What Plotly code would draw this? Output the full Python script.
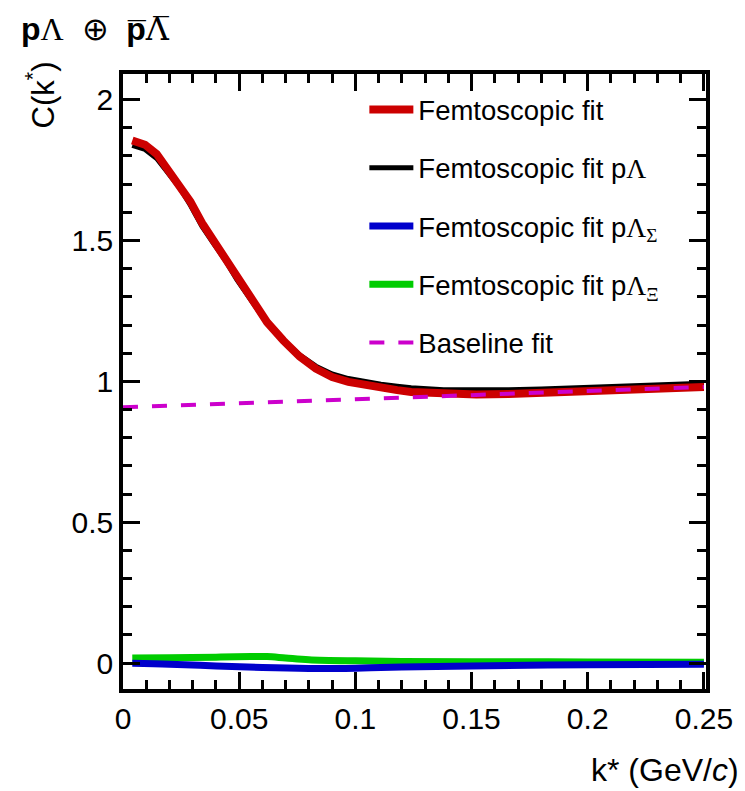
import plotly.graph_objects as go

# ---------------- data ----------------
k_fit = [0.004, 0.0095, 0.0145, 0.0195, 0.0245, 0.029, 0.034, 0.039, 0.044, 0.049,
         0.055, 0.062, 0.069, 0.076, 0.083, 0.090, 0.097, 0.104, 0.111, 0.118,
         0.124, 0.138, 0.152, 0.166, 0.180, 0.194, 0.208, 0.222, 0.236, 0.250]
c_total = [1.855, 1.840, 1.807, 1.750, 1.700, 1.638, 1.562, 1.500, 1.440, 1.370,
           1.295, 1.210, 1.145, 1.088, 1.045, 1.015, 0.998, 0.986, 0.977, 0.969,
           0.962, 0.955, 0.953, 0.955, 0.958, 0.963, 0.968, 0.972, 0.976, 0.980]
c_plambda = [1.838, 1.823, 1.791, 1.735, 1.686, 1.625, 1.550, 1.489, 1.430, 1.361,
             1.288, 1.206, 1.146, 1.094, 1.054, 1.026, 1.010, 0.998, 0.990, 0.983,
             0.977, 0.970, 0.968, 0.970, 0.973, 0.977, 0.981, 0.985, 0.989, 0.993]

k_sigma = [0.004, 0.02, 0.04, 0.06, 0.08, 0.10, 0.12, 0.15, 0.20, 0.25]
c_sigma = [-0.001, -0.004, -0.010, -0.016, -0.019, -0.018, -0.014, -0.010, -0.006, -0.004]

k_xi = [0.004, 0.02, 0.04, 0.055, 0.062, 0.07, 0.08, 0.10, 0.12, 0.15, 0.20, 0.25]
c_xi = [0.018, 0.019, 0.021, 0.023, 0.023, 0.018, 0.012, 0.008, 0.006, 0.005, 0.004, 0.003]

k_base = [0.0, 0.125, 0.25]
c_base = [0.908, 0.944, 0.980]

x_ticks = [0, 0.05, 0.1, 0.15, 0.2, 0.25]
x_ticktext = ["0", "0.05", "0.1", "0.15", "0.2", "0.25"]
y_ticks = [0, 0.5, 1, 1.5, 2]
y_ticktext = ["0", "0.5", "1", "1.5", "2"]

SERIF = "font-family:'Liberation Serif'"
LAM = f"<span style=\"{SERIF}\">Λ</span>"

names = {
    "total": "Femtoscopic fit",
    "plam": f"Femtoscopic fit p{LAM}",
    "sig": f"Femtoscopic fit p{LAM}<sub><span style=\"{SERIF}\">Σ</span></sub>",
    "xi": f"Femtoscopic fit p{LAM}<sub><span style=\"{SERIF}\">Ξ</span></sub>",
    "base": "Baseline fit",
}

fig = go.Figure()
# drawing order: black under red, magenta dashes on top
fig.add_trace(go.Scatter(x=k_fit, y=c_plambda, mode="lines", name=names["plam"],
                         line=dict(color="#000000", width=5), legendrank=2, legendgroup="b"))
fig.add_trace(go.Scatter(x=k_fit, y=c_total, mode="lines", name=names["total"],
                         line=dict(color="#cc0000", width=8), legendrank=1, legendgroup="a"))
fig.add_trace(go.Scatter(x=k_xi, y=c_xi, mode="lines", name=names["xi"],
                         line=dict(color="#00cc00", width=7, shape="spline"), legendrank=4, legendgroup="d"))
fig.add_trace(go.Scatter(x=k_sigma, y=c_sigma, mode="lines", name=names["sig"],
                         line=dict(color="#0000cc", width=7, shape="spline"), legendrank=3, legendgroup="c"))
fig.add_trace(go.Scatter(x=k_base, y=c_base, mode="lines", name=names["base"],
                         line=dict(color="#cc00cc", width=4, dash="15px,14px"), legendrank=5, legendgroup="e"))

axis_common = dict(
    showline=True, linecolor="black", linewidth=3.5, mirror="allticks",
    ticks="inside", tickcolor="black", tickwidth=3, ticklen=17,
    showgrid=False, zeroline=False,
    tickfont=dict(family="Liberation Sans", size=30, color="black"),
)

fig.update_xaxes(range=[0, 0.2509], tickvals=x_ticks, ticktext=x_ticktext,
                 minor=dict(dtick=0.01, ticks="inside", ticklen=9, tickwidth=3, tickcolor="black"),
                 **axis_common)
fig.update_yaxes(range=[-0.092, 2.091], tickvals=y_ticks, ticktext=y_ticktext,
                 minor=dict(dtick=0.1, ticks="inside", ticklen=9, tickwidth=3, tickcolor="black"),
                 **axis_common)

fig.update_layout(
    width=745, height=791,
    margin=dict(l=123, r=33, t=74, b=102),
    paper_bgcolor="white", plot_bgcolor="white",
    font=dict(family="Liberation Sans", color="black"),
    showlegend=True,
    legend=dict(x=0.414, y=0.982, xanchor="left", yanchor="top",
                traceorder="grouped", tracegroupgap=19.5,
                bgcolor="rgba(0,0,0,0)", borderwidth=0,
                font=dict(family="Liberation Sans", size=27.5, color="black"),
                itemwidth=44),
    annotations=[
        dict(text="k* (GeV/<i>c</i>)", xref="paper", yref="paper", x=1, y=0,
             xanchor="right", yanchor="middle", xshift=35, yshift=-81, showarrow=False,
             font=dict(family="Liberation Sans", size=32, color="black")),
        dict(text="C(k<sup>*</sup>)", xref="paper", yref="paper", x=0, y=1,
             xanchor="center", yanchor="top", xshift=-83, yshift=14, textangle=-90,
             showarrow=False, font=dict(family="Liberation Sans", size=31, color="black")),
        dict(text=("<b>p</b>" + LAM + "&nbsp;&nbsp;<span style=\"font-family:'DejaVu Sans';font-weight:200\">⊕</span>&nbsp;&nbsp;"
                   "<b>p\u0305</b><span style=\"font-family:'DejaVu Serif'\">Λ\u0305</span>"),
             xref="paper", yref="paper", x=0, y=1, xanchor="left", yanchor="middle",
             xshift=-104, yshift=45, showarrow=False,
             font=dict(family="Liberation Sans", size=32, color="black")),
    ],
)

fig.write_html("out.html")
